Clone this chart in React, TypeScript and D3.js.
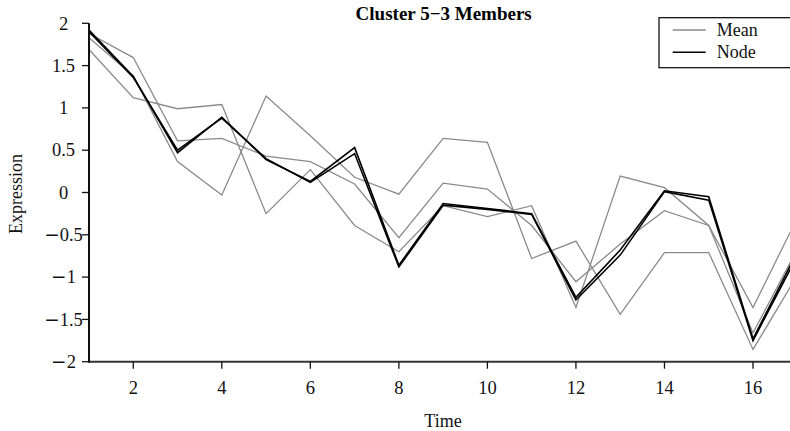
import React from "react";
import * as d3 from "d3";

const times = [1, 2, 3, 4, 5, 6, 7, 8, 9, 10, 11, 12, 13, 14, 15, 16, 17];
const member1 = [1.88, 1.595, 0.61, 0.64, 0.43, 0.365, 0.1, -0.535, 0.11, 0.04, -0.39, -1.055, -0.61, -0.215, -0.39, -1.36, -0.3];
const member2 = [1.83, 1.38, 0.365, -0.03, 1.14, 0.67, 0.18, -0.02, 0.64, 0.594, -0.78, -0.574, -1.44, -0.71, -0.71, -1.855, -0.98];
const member3 = [1.69, 1.12, 0.99, 1.04, -0.25, 0.27, -0.39, -0.7, -0.156, -0.286, -0.156, -1.36, 0.195, 0.057, -0.39, -1.66, -0.67];
const node1 = [1.92, 1.37, 0.47, 0.89, 0.39, 0.13, 0.53, -0.86, -0.13, -0.19, -0.25, -1.24, -0.68, 0.02, -0.05, -1.73, -0.7];
const node2 = [1.9, 1.36, 0.5, 0.88, 0.4, 0.12, 0.46, -0.88, -0.15, -0.2, -0.26, -1.27, -0.74, 0.01, -0.09, -1.75, -0.75];
const xTicks = [2, 4, 6, 8, 10, 12, 14, 16];
const yTicks = [-2, -1.5, -1, -0.5, 0, 0.5, 1, 1.5, 2];
const title = "Cluster 5\u22123 Members";
const legendItems = ["Mean", "Node"];

const W = 790;
const H = 431;
const FONT = "'Liberation Serif', 'DejaVu Serif', serif";

function NumLabel({ v }: { v: number }) {
  const s = String(Math.abs(v));
  if (v < 0) {
    return (
      <>
        <tspan fontFamily="'DejaVu Sans', sans-serif">{"\u2212"}</tspan>
        <tspan>{s}</tspan>
      </>
    );
  }
  return <>{s}</>;
}

export default function App() {
  const x = d3.scaleLinear().domain([1, 16]).range([89, 753]);
  const y = d3.scaleLinear().domain([-2, 2]).range([361.7, 23.3]);
  const line = d3
    .line<number>()
    .x((_, i) => x(times[i]))
    .y((d) => y(d));
  const grays = [member1, member2, member3];
  const blacks = [node1, node2];
  return (
    <svg
      width={W}
      height={H}
      style={{ position: "absolute", left: 0, top: 0, background: "#fff" }}
      fontFamily={FONT}
    >
      <rect x={0} y={0} width={W} height={H} fill="#fff" />
      {grays.map((s, i) => (
        <path key={"g" + i} d={line(s) || ""} fill="none" stroke="#8a8a8a" strokeWidth={1.3} strokeLinejoin="miter" />
      ))}
      {blacks.map((s, i) => (
        <path key={"b" + i} d={line(s) || ""} fill="none" stroke="#000" strokeWidth={1.6} strokeLinejoin="miter" />
      ))}
      {/* axes */}
      <line x1={x(1)} x2={W} y1={y(-2)} y2={y(-2)} stroke="#333" strokeWidth={2} />
      <line x1={x(1)} x2={x(1)} y1={y(-2) + 1} y2={y(2)} stroke="#111" strokeWidth={2} />
      {xTicks.map((t) => (
        <g key={"xt" + t}>
          <line x1={x(t)} x2={x(t)} y1={y(-2)} y2={y(-2) + 7} stroke="#111" strokeWidth={1.3} />
          <text x={x(t)} y={394} textAnchor="middle" fontSize={18.5} fill="#111">
            <NumLabel v={t} />
          </text>
        </g>
      ))}
      {yTicks.map((t) => (
        <g key={"yt" + t}>
          <line x1={x(1) - 7} x2={x(1)} y1={y(t)} y2={y(t)} stroke="#111" strokeWidth={1.3} />
          <text x={63.5} y={y(t) + 6.2} textAnchor="middle" fontSize={18.5} fill="#111">
            <NumLabel v={t} />
          </text>
        </g>
      ))}
      <text x={443} y={426.5} textAnchor="middle" fontSize={18} fill="#111">
        Time
      </text>
      <text
        transform={`translate(21.5, 194) rotate(-90)`}
        textAnchor="middle"
        fontSize={18}
        fill="#111"
      >
        Expression
      </text>
      <text x={443.7} y={20.3} textAnchor="middle" fontSize={19} fontWeight="bold" fill="#000">
        {title}
      </text>
      {/* legend */}
      <rect x={659} y={17.7} width={160} height={50} fill="#fff" stroke="#000" strokeWidth={1.2} />
      {legendItems.map((name, i) => (
        <g key={name}>
          <line
            x1={672.7}
            x2={705.7}
            y1={30 + i * 22.3}
            y2={30 + i * 22.3}
            stroke={i === 0 ? "#8a8a8a" : "#000"}
            strokeWidth={i === 0 ? 1.3 : 1.6}
          />
          <text x={716.7} y={36 + i * 22.3} fontSize={18} fill="#111">
            {name}
          </text>
        </g>
      ))}
    </svg>
  );
}
